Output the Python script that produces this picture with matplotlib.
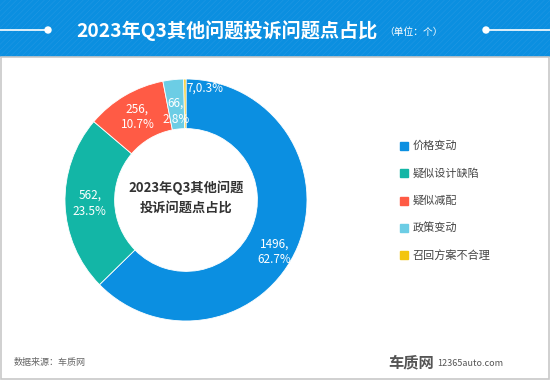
import matplotlib.pyplot as plt
import numpy as np
from matplotlib.patches import Rectangle, Circle

plt.rcParams['font.family'] = ['Noto Sans CJK SC', 'DejaVu Sans']
plt.rcParams['hatch.linewidth'] = 0.4

categories = ['价格变动', '疑似设计缺陷', '疑似减配', '政策变动', '召回方案不合理']
counts = [1496, 562, 256, 66, 7]
colors = ['#0b8fe1', '#13b6a6', '#ff5b45', '#6ccde5', '#f3c50e']

W, H = 550, 380
fig = plt.figure(figsize=(W / 100, H / 100), dpi=100)
fig.patch.set_facecolor('white')

# background / decorations in pixel coordinates
bg = fig.add_axes([0, 0, 1, 1])
bg.set_xlim(0, W)
bg.set_ylim(H, 0)
bg.axis('off')

bg.add_patch(Rectangle((0, 0), W, 57, facecolor='#0b8fe0', edgecolor='#2197e3',
                       hatch='//////', linewidth=0, zorder=1))
bg.add_patch(Rectangle((0.5, 57), W - 2, H - 58.5, facecolor='none',
                       edgecolor='#c8c8c8', linewidth=1.2, zorder=1))

bg.plot([0, 48], [30, 30], color='white', lw=1.2, zorder=2)
bg.plot([486, W], [30, 30], color='white', lw=1.2, zorder=2)
bg.add_patch(Circle((48, 30), 3, color='white', zorder=3))
bg.add_patch(Circle((486, 30), 3, color='white', zorder=3))

bg.text(378, 31, '2023年Q3其他问题投诉问题点占比', color='white', fontsize=13.8,
        fontweight='bold', ha='right', va='center', zorder=3)
bg.text(384, 32, '（单位：个）', color='white', fontsize=7, ha='left', va='center', zorder=3)

bg.text(14, 362, '数据来源：车质网', color='#666666', fontsize=6.5, va='center')
bg.text(388, 362, '车质网', color='#555555', fontsize=11, fontweight='bold', va='center')
bg.text(437, 363, '12365auto.com', color='#555555', fontsize=6.5, va='center')

# legend
for i, (cat, col) in enumerate(zip(categories, colors)):
    y = 146 + i * 27.3
    bg.add_patch(Rectangle((400, y - 4), 8, 8, color=col, zorder=3))
    bg.text(413, y, cat, color='#444444', fontsize=8, va='center')

# donut
cx, cy, r = 186, 200, 121
ax = fig.add_axes([(cx - r) / W, (H - cy - r) / H, 2 * r / W, 2 * r / H])
wedges, _ = ax.pie(counts, colors=colors, startangle=90, counterclock=False,
                   radius=1, wedgeprops=dict(width=0.41, edgecolor='white', linewidth=0.6))
ax.set_xlim(-1, 1)
ax.set_ylim(-1, 1)
ax.set_aspect('equal')

total = sum(counts)
for i, (w, c) in enumerate(zip(wedges, counts)):
    pct = c / total * 100
    ang = np.deg2rad((w.theta1 + w.theta2) / 2)
    rr = 0.795
    x, y = rr * np.cos(ang), rr * np.sin(ang)
    if c < 20:
        ax.text(x + 0.16, y + 0.13, f'{c},{pct:.1f}%', color='white', fontsize=8.5,
                ha='center', va='center')
    else:
        if i == 0:
            y -= 0.12
        elif c < 100:
            y -= 0.06
        ax.text(x, y, f'{c},\n{pct:.1f}%', color='white', fontsize=8.5,
                ha='center', va='center', linespacing=1.3)

ax.text(0, 0.02, '2023年Q3其他问题\n投诉问题点占比', color='#333333', fontsize=9.5,
        fontweight='bold', ha='center', va='center', linespacing=1.5)

fig.savefig('out.png', dpi=100)
